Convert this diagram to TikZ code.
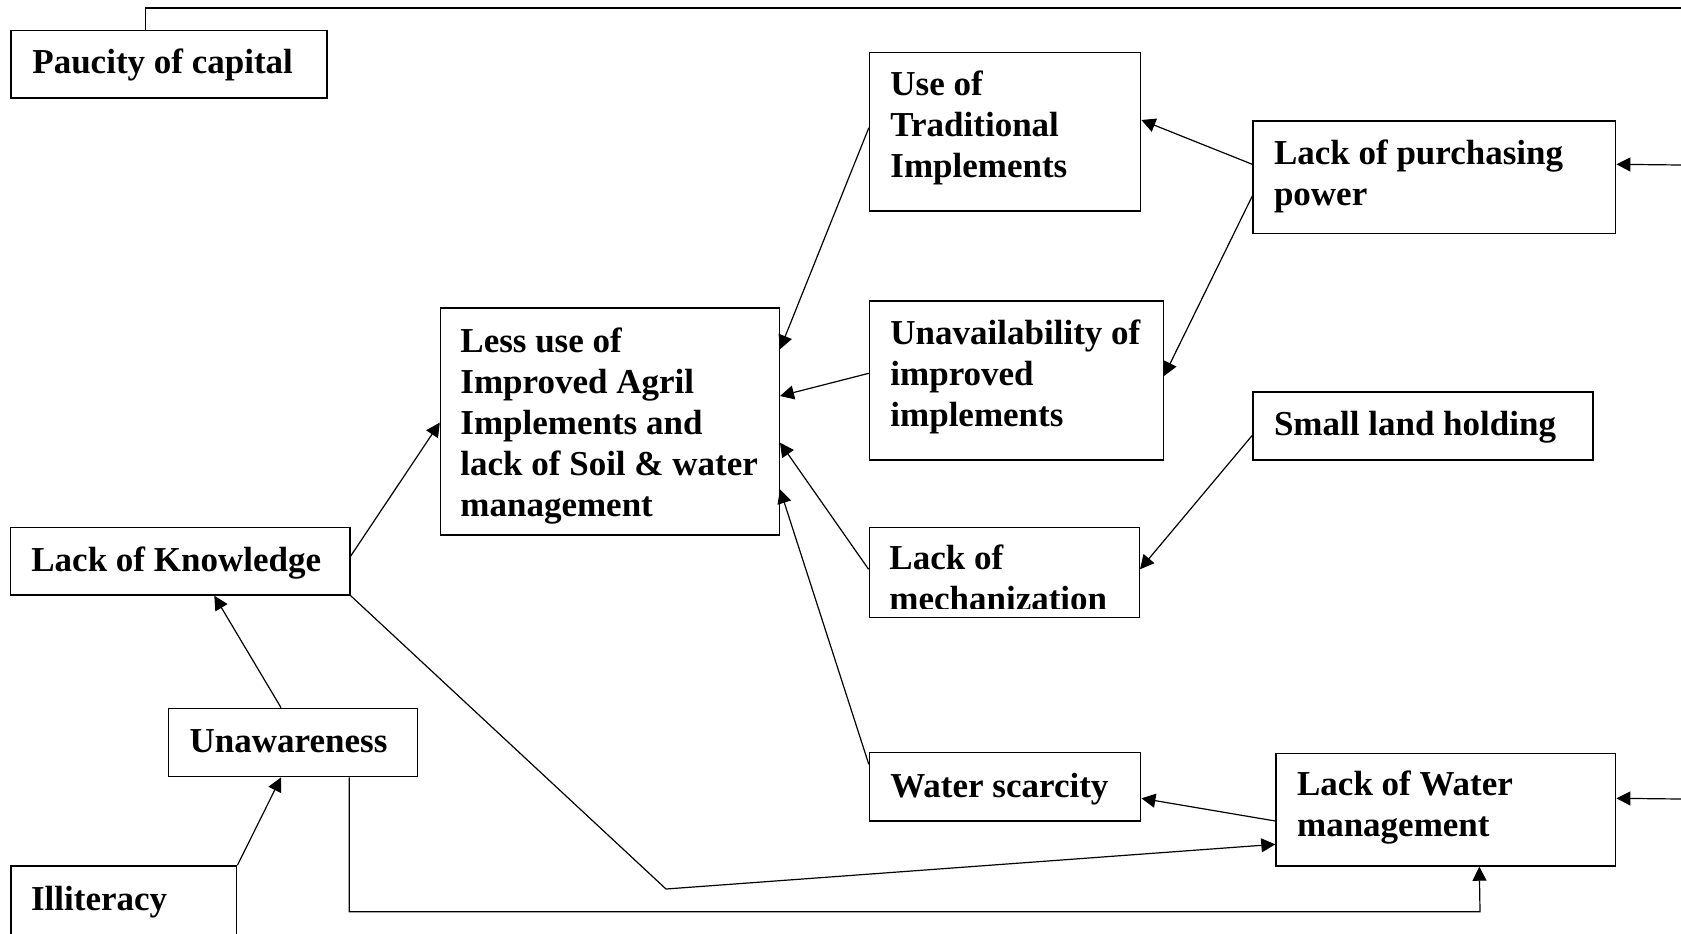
\documentclass[tikz,border=0pt]{standalone}
\usepackage{fontspec}
\setmainfont{Liberation Serif}
\usetikzlibrary{arrows.meta,calc,fit}
\newcommand\mlines[1]{\parbox[t]{12cm}{\raggedright #1}}
\begin{document}
\begin{tikzpicture}[x=0.5pt,y=-0.5pt,
  box/.style={draw, line width=0.7pt, inner sep=0pt, minimum size=0pt},
  txt/.style={anchor=base west, inner sep=0pt,
    font=\bfseries\fontsize{17.5}{20.5}\selectfont},
  conn/.style={line width=0.6pt, -{Triangle[length=7pt,width=7pt]}},
  plain/.style={line width=0.6pt}]
\useasboundingbox (0,0) rectangle (1681,933);

% boxes
\node[box, fit={(11,30.7) (327,98)}]        (pauc)  {};
\node[box, fit={(869.5,52.5) (1140.7,211)}] (trad)  {};
\node[box, fit={(1253,121) (1615.7,233.5)}] (lpp)   {};
\node[box, fit={(440.5,308) (779.3,535)}]   (less)  {};
\node[box, fit={(869.5,301) (1163.3,460)}]  (unav)  {};
\node[box, fit={(1253,392) (1593,460)}]     (slh)   {};
\node[box, fit={(10.7,527.7) (350,595)}]    (lok)   {};
\node[box, fit={(869.3,527.3) (1139.3,617.3)}] (mech) {};
\node[box, fit={(168.3,708.3) (417.7,776.7)}]  (unaw) {};
\node[box, fit={(869.5,752.6) (1140.7,821)}]   (wsc)  {};
\node[box, fit={(1276,753.3) (1615.7,866)}]    (lwm)  {};
\node[box, fit={(11,866) (236.7,980)}]         (illit) {};

% labels
\node[txt] (pauc-t) at (32,73)     {Paucity of capital};
\node[txt] (trad-t) at (890,95)    {\mlines{Use of\\Traditional\\Implements}};
\node[txt] (lpp-t)  at (1273.6,164) {\mlines{Lack of purchasing\\power}};
\node[txt] (less-t) at (460,352.5) {\mlines{Less use of\\Improved Agril\\Implements and\\lack of Soil \& water\\management}};
\node[txt] (unav-t) at (890,344.5) {\mlines{Unavailability of\\improved\\implements}};
\node[txt] (slh-t)  at (1273.6,435) {Small land holding};
\node[txt] (lok-t)  at (31,571)    {Lack of Knowledge};
\begin{scope}
  \clip (869.3,527.3) rectangle (1139.3,608.5);
  \node[txt] (mech-t) at (889,569.5) {\mlines{Lack of\\mechanization}};
\end{scope}
\node[txt] (unaw-t) at (189.3,752.5) {Unawareness};
\node[txt] (wsc-t)  at (890,797) {Water scarcity};
\node[txt] (lwm-t)  at (1296.7,795.5) {\mlines{Lack of Water\\management}};
\node[txt] (illit-t) at (30.7,910) {Illiteracy};

% free ends at the page edge
\coordinate (topr)  at (1681,8);
\coordinate (edgeA) at (1681,165);
\coordinate (edgeB) at (1681,799);
\coordinate (bend)  at (666,889);
\coordinate (loopb) at (1480,911.7);

% connectors
\draw[conn] ($(lok.north east)+(0,29)$) -- ($(less.north west)+(0,115.3)$);
\draw[conn] ($(unaw.north west)+(113.4,0)$) -- ($(lok.south west)+(204.3,0)$);
\draw[conn] (illit.north east) -- ($(unaw.south west)+(113.4,0)$);
\draw[conn] ($(trad.north west)+(0,76)$) -- ($(less.north east)+(0,42)$);
\draw[conn] ($(unav.north west)+(0,73)$) -- ($(less.north east)+(0,88.7)$);
\draw[conn] ($(mech.north west)+(0,42.7)$) -- ($(less.north east)+(0,135.3)$);
\draw[conn] ($(wsc.north west)+(0,12.4)$) -- ($(less.north east)+(0,182)$);
\draw[conn] ($(lpp.north west)+(0,44)$) -- ($(trad.north east)+(0,68.2)$);
\draw[conn] ($(lpp.north west)+(0,75.7)$) -- ($(unav.north east)+(0,75.7)$);
\draw[conn] ($(slh.north west)+(0,44)$) -- ($(mech.north east)+(0,42.7)$);
\draw[conn] ($(lwm.north west)+(0,68.4)$) -- ($(wsc.north east)+(0,46.4)$);
\draw[conn] (edgeA) -- ($(lpp.north east)+(0,44)$);
\draw[conn] (edgeB) -- ($(lwm.north east)+(0,45.7)$);
\draw[conn] (lok.south east) -- (bend) -- ($(lwm.north west)+(0,91.7)$);
\draw[conn] ($(unaw.south west)+(181.7,0)$) |- (loopb) -- ($(lwm.south west)+(204,0)$);
\draw[plain] ($(pauc.north west)+(135,0)$) |- (topr);
\end{tikzpicture}
\end{document}
